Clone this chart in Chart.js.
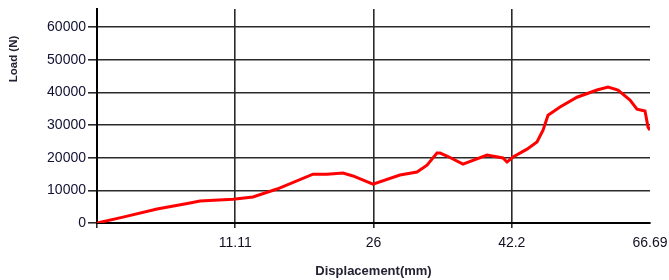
<!DOCTYPE html>
<html>
<head>
<meta charset="utf-8">
<script src="https://cdn.jsdelivr.net/npm/chart.js@4"></script>
<style>
  html, body { margin: 0; padding: 0; background: #fff; }
  #wrap { width: 669px; height: 280px; }
</style>
</head>
<body>
<div id="wrap"><canvas id="loadChart" width="669" height="280"></canvas></div>
<script>
  // Load vs displacement curve
  var displacement = [0, 3.14, 7.24, 11.22, 12.42, 16.40, 18.81, 21.71, 26.05, 27.74,
    29.67, 30.87, 33.28, 36.54, 38.59, 39.80, 41.00, 41.37, 42.21, 44.14,
    47.03, 48.96, 49.45, 50.17, 51.86, 53.06, 53.79, 54.39, 55.84, 57.89,
    60.30, 61.63, 62.83, 64.28, 65.12, 66.09, 66.45, 66.69];
  var load = [0, 1800, 4300, 6100, 6700, 7300, 7950, 10400, 14950, 14950,
    15300, 14400, 11900, 14700, 15600, 17700, 21400, 21400, 20500, 18000,
    20800, 19900, 18650, 20200, 22600, 24800, 28400, 33000, 35500, 38500,
    40700, 41600, 40700, 37600, 34850, 34250, 29350, 28450];

  var xTickLabels = ["11.11", "26", "42.2", "66.69"];
  var xMax = 66.69;
  var yTicks = [0, 10000, 20000, 30000, 40000, 50000, 60000];
  var yMax = 65500;

  var labelFont = { family: "'Liberation Sans Narrow', 'Arial Narrow', 'Liberation Sans', sans-serif", size: 14 };
  var gridColor = "#2a2a2a";

  var yTitlePlugin = {
    id: "yTitle",
    afterDraw: function (chart) {
      var ctx = chart.ctx;
      ctx.save();
      ctx.translate(14, 59);
      ctx.rotate(-Math.PI / 2);
      ctx.font = "bold 11.5px 'Liberation Sans', Arial, sans-serif";
      ctx.fillStyle = "#222233";
      ctx.textAlign = "center";
      ctx.textBaseline = "middle";
      ctx.fillText("Load (N)", 0, 0);
      ctx.restore();
    }
  };

  var points = displacement.map(function (d, i) {
    return { x: d, y: load[i] };
  });

  new Chart(document.getElementById("loadChart"), {
    type: "scatter",
    data: {
      datasets: [
        {
          data: points,
          showLine: true,
          borderColor: "#ff0000",
          backgroundColor: "#ff0000",
          borderWidth: 3,
          pointRadius: 0,
          tension: 0,
        },
      ],
    },
    options: {
      responsive: false,
      animation: false,
      layout: { padding: { top: 9, right: 19, left: 0, bottom: 0 } },
      plugins: { legend: { display: false }, tooltip: { enabled: false } },
      scales: {
        x: {
          type: "linear",
          min: 0,
          max: xMax,
          afterBuildTicks: function (scale) {
            var t = [{ value: 0 }];
            xTickLabels.forEach(function (l, i) {
              t.push({ value: xMax * (i + 1) / xTickLabels.length });
            });
            scale.ticks = t;
          },
          afterFit: function (scale) {
            scale.height = 57;
            scale.paddingLeft = 0;
            scale.paddingRight = 0;
          },
          ticks: {
            autoSkip: false,
            maxRotation: 0,
            padding: 7,
            color: "#111122",
            font: labelFont,
            callback: function (v, i) {
              return i === 0 ? "" : xTickLabels[i - 1];
            },
          },
          grid: {
            color: function (c) {
              return c.tick && c.tick.value >= xMax - 0.01 ? "rgba(0,0,0,0)" : gridColor;
            },
            lineWidth: 1.6,
            tickLength: 5,
          },
          border: { color: "#000", width: 2 },
          title: {
            display: true,
            text: "Displacement(mm)",
            color: "#222233",
            font: { family: "'Liberation Sans', Arial, sans-serif", size: 13, weight: "bold" },
            padding: { top: 0, bottom: 1 },
          },
        },
        y: {
          min: 0,
          max: yMax,
          afterBuildTicks: function (scale) {
            scale.ticks = yTicks.map(function (v) { return { value: v }; });
          },
          afterFit: function (scale) {
            scale.width = 97;
            scale.paddingTop = 0;
            scale.paddingBottom = 0;
          },
          ticks: {
            padding: 2,
            color: "#111133",
            font: labelFont,
            callback: function (v) { return String(v); },
          },
          grid: {
            color: gridColor,
            lineWidth: 1.6,
            tickLength: 9,
          },
          border: { color: "#000", width: 2 },
        },
      },
    },
    plugins: [yTitlePlugin],
  });
</script>
</body>
</html>
